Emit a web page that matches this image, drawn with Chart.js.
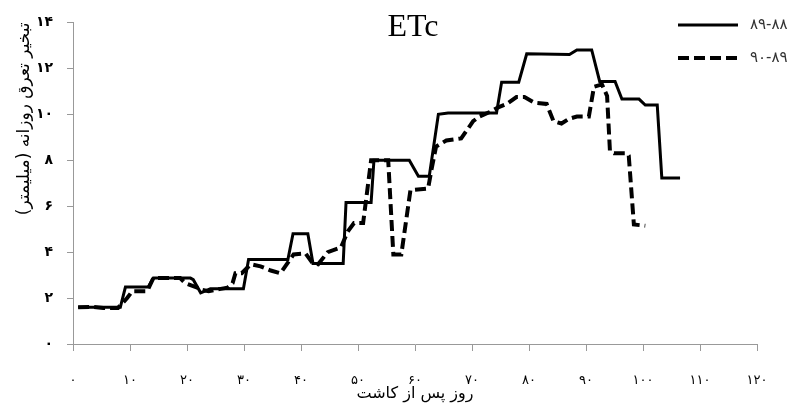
<!DOCTYPE html>
<html>
<head>
<meta charset="utf-8">
<script src="https://cdn.jsdelivr.net/npm/chart.js@4.4.0/dist/chart.umd.min.js"></script>
<style>
  html, body { margin: 0; padding: 0; background: #fff; }
  #wrap { width: 807px; height: 403px; }
</style>
</head>
<body>
<div id="wrap"><canvas id="etcChart" width="807" height="403"></canvas></div>
<script>
// روز پس از کاشت / ETc - سال ۸۹-۸۸ (خط پر)
const days8889 = [0.9, 8.3, 9.2, 13.2, 14.1, 20.6, 21.1, 22.4, 24.1, 29.9, 30.8, 37.7, 38.6, 41.2, 42.1,
    47.4, 47.9, 52.3, 52.8, 59.0, 60.6, 62.5, 64.1, 65.8, 74.3, 75.2, 78.2, 79.6, 87.1, 88.4,
    91.0, 92.4, 95.1, 96.3, 99.3, 100.4, 102.5, 103.3, 106.5];
const etc8889 = [1.6, 1.6, 2.48, 2.48, 2.87, 2.87, 2.8, 2.23, 2.4, 2.4, 3.68, 3.68, 4.8, 4.8, 3.5,
    3.5, 6.16, 6.16, 8.0, 8.0, 7.3, 7.3, 10.0, 10.06, 10.06, 11.4, 11.4, 12.63, 12.6, 12.8,
    12.8, 11.43, 11.43, 10.66, 10.66, 10.4, 10.4, 7.23, 7.23];

// سال ۹۰-۸۹ (خط چین)
const days8990 = [0.9, 3.5, 5.3, 7.9, 9.5, 10.4, 13.0, 14.1, 18.8, 19.7, 21.8, 22.7, 23.8, 25.9, 27.1,
    28.0, 28.5, 29.6, 31.2, 32.9, 34.7, 36.4, 38.7, 40.8, 42.1, 43.0, 44.7, 47.0, 48.2, 49.3,
    50.9, 52.3, 53.5, 55.3, 56.2, 57.6, 59.2, 62.3, 62.9, 63.7, 65.5, 68.1, 70.2, 71.3, 73.1,
    74.6, 76.1, 77.8, 79.2, 81.0, 83.1, 84.3, 85.7, 87.0, 88.4, 90.5, 91.4, 92.8, 93.7, 94.2,
    94.9, 97.2, 97.5, 98.4, 100.4];
const etc8990 = [1.6, 1.62, 1.57, 1.57, 2.0, 2.3, 2.3, 2.87, 2.87, 2.65, 2.45, 2.35, 2.3, 2.4, 2.45,
    2.65, 3.08, 3.08, 3.47, 3.38, 3.2, 3.08, 3.9, 3.94, 3.5, 3.47, 4.0, 4.2, 4.9, 5.27,
    5.27, 8.0, 8.0, 8.0, 3.9, 3.9, 6.7, 6.77, 7.6, 8.6, 8.86, 8.95, 9.7, 9.9, 10.1,
    10.3, 10.45, 10.75, 10.75, 10.5, 10.45, 9.7, 9.6, 9.8, 9.9, 9.9, 11.2, 11.3, 10.8, 8.4,
    8.3, 8.3, 8.2, 5.2, 5.15];

const seriesNames = ['۸۹-۸۸', '۹۰-۸۹'];
const xTickLabels = ['۰', '۱۰', '۲۰', '۳۰', '۴۰', '۵۰', '۶۰', '۷۰', '۸۰', '۹۰', '۱۰۰', '۱۱۰', '۱۲۰'];
const yTickLabels = ['۰', '۲', '۴', '۶', '۸', '۱۰', '۱۲', '۱۴'];
const chartTitle = 'ETc';
const xTitle = 'روز پس از کاشت';
const yTitle = 'تبخیر تعرق روزانه (میلیمتر)\u200F';

const toPoints = (xs, ys) => xs.map((x, i) => ({ x: x, y: ys[i] }));

// عنوان و راهنما داخل ناحیه نمودار
const overlayPlugin = {
    id: 'overlay',
    afterDraw(chart) {
        const ctx = chart.ctx;
        ctx.save();
        ctx.fillStyle = '#000';
        ctx.font = '32px "Liberation Serif", "Times New Roman", serif';
        ctx.textAlign = 'center';
        ctx.textBaseline = 'middle';
        ctx.fillText(chartTitle, 413, 28);

        const rows = [25, 58];
        chart.data.datasets.forEach((ds, i) => {
            const y = rows[i];
            ctx.beginPath();
            ctx.strokeStyle = ds.borderColor;
            ctx.lineWidth = ds.borderWidth;
            ctx.setLineDash(ds.borderDash || []);
            ctx.moveTo(678, y);
            ctx.lineTo(738, y);
            ctx.stroke();
            ctx.setLineDash([]);
            ctx.fillStyle = '#333';
            ctx.font = '15px "DejaVu Sans", sans-serif';
            ctx.textAlign = 'left';
            ctx.fillText(ds.label, 750, y);
        });
        ctx.restore();
    }
};

const ctx = document.getElementById('etcChart').getContext('2d');
new Chart(ctx, {
    type: 'line',
    data: {
        datasets: [
            {
                label: seriesNames[0],
                data: toPoints(days8889, etc8889),
                borderColor: '#000',
                borderWidth: 3,
                pointRadius: 0,
                tension: 0,
                fill: false
            },
            {
                label: seriesNames[1],
                data: toPoints(days8990, etc8990),
                borderColor: '#000',
                borderWidth: 4,
                borderDash: [11, 5],
                pointRadius: 0,
                tension: 0,
                fill: false
            }
        ]
    },
    options: {
        responsive: false,
        animation: false,
        layout: { padding: { left: 0, right: 50, top: 17, bottom: 0 } },
        plugins: {
            legend: { display: false },
            tooltip: { enabled: false }
        },
        scales: {
            x: {
                type: 'linear',
                min: 0,
                max: 120,
                afterFit: (scale) => { scale.height = 59; },
                border: { color: '#999', width: 1 },
                grid: { drawOnChartArea: false, drawTicks: true, tickLength: 7, color: '#999' },
                ticks: {
                    stepSize: 10,
                    maxRotation: 0,
                    padding: 22,
                    color: '#000',
                    font: { family: 'DejaVu Sans', size: 13 },
                    callback: (v, i) => xTickLabels[i]
                },
                title: {
                    display: true,
                    text: xTitle,
                    color: '#000',
                    padding: { top: 0, bottom: 0 },
                    font: { family: 'DejaVu Sans', size: 16 }
                }
            },
            y: {
                min: 0,
                max: 14,
                afterFit: (scale) => { scale.width = 73; },
                border: { color: '#999', width: 1 },
                grid: { drawOnChartArea: false, drawTicks: true, tickLength: 6, color: '#999' },
                ticks: {
                    stepSize: 2,
                    padding: 14,
                    color: '#000',
                    font: { family: 'DejaVu Sans', size: 14, weight: 'bold' },
                    callback: (v, i) => yTickLabels[i]
                },
                title: {
                    display: true,
                    text: yTitle,
                    align: 'end',
                    color: '#000',
                    padding: { top: 14, bottom: 0 },
                    font: { family: 'DejaVu Sans', size: 17 }
                }
            }
        }
    },
    plugins: [overlayPlugin]
});
</script>
</body>
</html>
